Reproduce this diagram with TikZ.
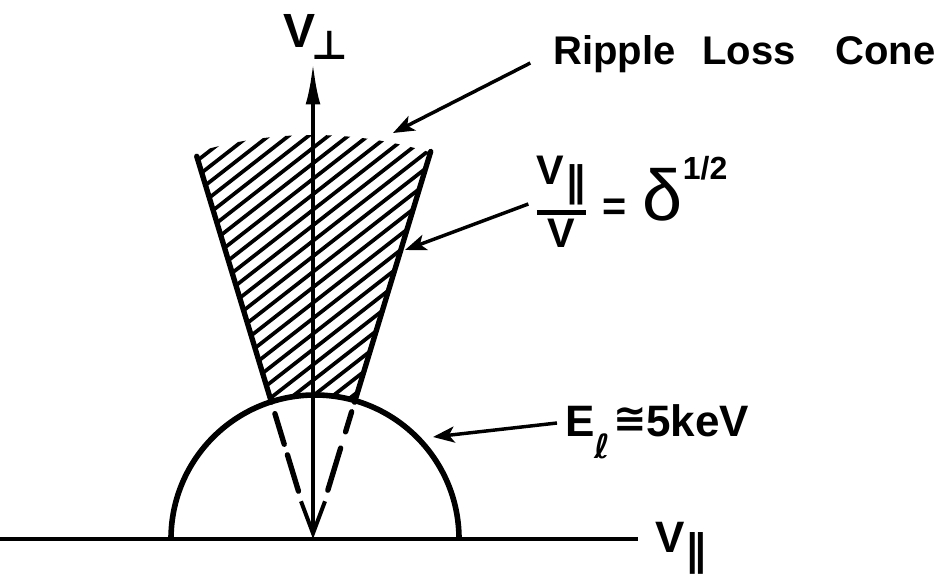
\documentclass[tikz,border=0pt]{standalone}
\usepackage{amsmath}
\usepackage{fontspec}
\setmainfont{Liberation Sans}
\newfontfamily\sym{DejaVu Sans}
\usetikzlibrary{arrows.meta}
\begin{document}
\begin{tikzpicture}[x=0.75pt,y=0.75pt,
  lbl/.style={inner sep=0pt, font=\bfseries\fontsize{33}{36}\selectfont},
  ann/.style={line width=2.6pt, -{Stealth[length=16pt,width=12pt,inset=4pt]}},
  axisline/.style={line width=2.5pt},
  semi/.style={line width=4.2pt},
  coneline/.style={line width=4pt, line cap=round},
  hatchline/.style={line width=2.8pt},
  vaxis/.style={line width=3pt, {Straight Barb[length=24pt,width=18pt,line width=3pt]}-{Latex[length=31pt,width=11pt]}}]
\useasboundingbox (0,0) rectangle (937,574);

\coordinate (O) at (313,35);
\coordinate (vtop) at (313,511);

% hatching of the loss cone
\begin{scope}
  \clip (O) -- ++(106.9:404) arc[start angle=106.9,end angle=73.1,radius=404] -- cycle;
  \foreach \c in {-190,-174.5,...,310}
    \draw[hatchline] (150,{117+\c}) -- (480,{374.4+\c});
\end{scope}
\fill[white] (171,35) arc[start angle=180,end angle=0,radius=144] -- cycle;

% axes
\draw[axisline] (0,35) -- (638,35);
\draw[vaxis] (O) -- (vtop);

% semicircle
\draw[semi] (171,35) arc[start angle=180,end angle=0,radius=144];

% cone lines
\draw[coneline] ([shift={(106.9:143)}]O) -- ([shift={(106.9:400)}]O);
\draw[coneline] ([shift={(73.1:143)}]O) -- ([shift={(73.1:405)}]O);
\draw[coneline] ([shift={(106.9:131)}]O) -- ([shift={(106.9:99)}]O);
\draw[coneline] ([shift={(106.9:88)}]O) -- ([shift={(106.9:50)}]O);
\draw[coneline] ([shift={(73.1:133)}]O) -- ([shift={(73.1:112)}]O);
\draw[coneline] ([shift={(73.1:95)}]O) -- ([shift={(73.1:51)}]O);

% labels
\node[lbl, anchor=base west, font=\bfseries\fontsize{36}{38}\selectfont] (vperp) at (283,526)
  {V\kern-3pt\raisebox{-9pt}{\sym\bfseries\fontsize{30}{30}\selectfont ⊥}};
\node[lbl, anchor=base west] (vpar) at (655,22)
  {V\kern1pt\raisebox{-10pt}{\sym\bfseries\fontsize{32}{32}\selectfont ∥}};
\node[lbl, anchor=base west, font=\bfseries\fontsize{30}{32}\selectfont] (ripple) at (553,509)
  {\makebox[111.75pt][l]{Ripple}\makebox[99.75pt][l]{Loss}Cone};
\node[lbl, anchor=west, font=\bfseries\fontsize{31}{33}\selectfont] (eq) at (535,372)
  {$\genfrac{}{}{3.5pt}{}{\mbox{V\kern1pt\raisebox{-9pt}{\sym\bfseries ∥}}}{\mbox{V}}\mbox{\hspace{11pt}=\hspace{12pt}}\mbox{\mdseries\fontsize{54}{54}\selectfont δ}^{\mbox{\fontsize{24}{24}\selectfont 1/2}}$};
\node[lbl, anchor=base west] (elbl) at (565,137)
  {E\raisebox{-16pt}{\sym\fontsize{25}{25}\selectfont ℓ}\kern2pt\raisebox{3pt}{\sym\bfseries\fontsize{30}{30}\selectfont ≅}5keV};

% annotation arrows
\coordinate (rtip) at (393,441);
\coordinate (eqtip) at (405,324);
\coordinate (etip) at (433,137);
\draw[ann] ([shift={(-17pt,1.5pt)}]ripple.base west) -- (rtip);
\draw[ann] ([shift={(-5pt,-1.5pt)}]eq.west) -- (eqtip);
\draw[ann] ([shift={(-6pt,10.5pt)}]elbl.base west) -- (etip);
\end{tikzpicture}
\end{document}
